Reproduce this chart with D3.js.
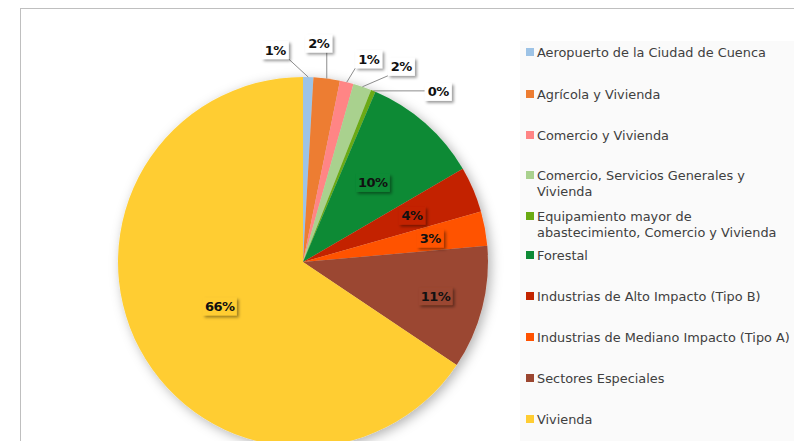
<!DOCTYPE html>
<html><head><meta charset="utf-8">
<script src="https://cdn.jsdelivr.net/npm/d3@7"></script>
<style>
html,body{margin:0;padding:0;background:#fff;}
svg{display:block;}
</style></head>
<body>
<svg id="chart" width="794" height="441"></svg>
<script>
const categories = [
  "Aeropuerto de la Ciudad de Cuenca",
  "Agrícola y Vivienda",
  "Comercio y Vivienda",
  "Comercio, Servicios Generales y Vivienda",
  "Equipamiento mayor de abastecimiento, Comercio y Vivienda",
  "Forestal",
  "Industrias de Alto Impacto (Tipo B)",
  "Industrias de Mediano Impacto (Tipo A)",
  "Sectores Especiales",
  "Vivienda"
];
const values = [0.9, 2.3, 1.2, 1.6, 0.4, 10.2, 4.0, 3.0, 10.8, 65.6];
const colors = ["#9DC3E6","#ED7D31","#FF8585","#A9D18E","#6AAA12","#0E8A36","#C32400","#FF5200","#9B4630","#FFCD33"];
const legendLines = [
  ["Aeropuerto de la Ciudad de Cuenca"],
  ["Agrícola y Vivienda"],
  ["Comercio y Vivienda"],
  ["Comercio, Servicios Generales y","Vivienda"],
  ["Equipamiento mayor de","abastecimiento, Comercio y Vivienda"],
  ["Forestal"],
  ["Industrias de Alto Impacto (Tipo B)"],
  ["Industrias de Mediano Impacto (Tipo A)"],
  ["Sectores Especiales"],
  ["Vivienda"]
];

// layout
const cx = 303, cy = 262, R = 185;
const outside = {0:[-33,-27], 1:[-8,-35], 2:[22,-23], 3:[39,-20], 4:[65,1]};
const insideR = {5:0.57, 6:0.64, 7:0.70, 8:0.74, 9:0.51};
const FONT = "'DejaVu Sans', sans-serif";

const svg = d3.select("#chart");
const defs = svg.append("defs");
const f = defs.append("filter").attr("id","pieShadow").attr("x","-20%").attr("y","-20%").attr("width","140%").attr("height","140%");
f.append("feDropShadow").attr("dx",3).attr("dy",3).attr("stdDeviation",6).attr("flood-color","#000").attr("flood-opacity",0.3);
const f2 = defs.append("filter").attr("id","boxShadow").attr("x","-30%").attr("y","-30%").attr("width","170%").attr("height","170%");
f2.append("feDropShadow").attr("dx",2).attr("dy",2).attr("stdDeviation",1.5).attr("flood-color","#000").attr("flood-opacity",0.4);

svg.append("rect").attr("x",20.5).attr("y",8.5).attr("width",790).attr("height",450)
  .attr("fill","#fff").attr("stroke","#bfbfbf").attr("stroke-width",1);
svg.append("rect").attr("x",520).attr("y",41).attr("width",280).attr("height",420).attr("fill","#fafafa");

const total = d3.sum(values);
const pie = d3.pie().sort(null).value(d => d)(values);
const arc = d3.arc().innerRadius(0).outerRadius(R);

const g = svg.append("g").attr("transform",`translate(${cx},${cy})`);
g.append("g").attr("filter","url(#pieShadow)")
  .selectAll("path").data(pie).join("path")
  .attr("d", arc).attr("fill",(d,i)=>colors[i]);

const lab = svg.append("g").attr("font-family",FONT).attr("font-weight","bold").attr("font-size",13);
pie.forEach((d,i) => {
  const pct = Math.round(d.value/total*100) + "%";
  const mid = (d.startAngle + d.endAngle)/2;
  const w = pct.length > 2 ? 34 : 27, h = 18;
  let lx, ly, fill;
  if (outside[i]) {
    const ex = cx + R*Math.sin(mid), ey = cy - R*Math.cos(mid);
    lx = ex + outside[i][0]; ly = ey + outside[i][1];
    fill = "#fff";
    const px = Math.max(lx - w/2, Math.min(ex, lx + w/2));
    const py = Math.max(ly - h/2, Math.min(ey, ly + h/2));
    lab.append("line").attr("x1",ex).attr("y1",ey).attr("x2",px).attr("y2",py)
      .attr("stroke","#7f7f7f").attr("stroke-width",0.9);
  } else {
    const rr = R*insideR[i];
    lx = cx + rr*Math.sin(mid); ly = cy - rr*Math.cos(mid);
    fill = colors[i];
  }
  lab.append("rect").attr("x",lx-w/2).attr("y",ly-h/2).attr("width",w).attr("height",h)
    .attr("fill",fill).attr("filter","url(#boxShadow)");
  lab.append("text").attr("x",lx).attr("y",ly+4.5).attr("text-anchor","middle")
    .attr("fill","#111").attr("letter-spacing",-0.5).text(pct);
});

// legend: fit font size so the longest entry spans the reference width
const rowY = [52, 94, 135, 175, 216, 255, 296, 337, 378, 419];
const leg = svg.append("g").attr("font-family",FONT).attr("font-size",12).attr("fill","#404040");
const probe = leg.append("text").text(legendLines[7][0]);
const fs = 12 * 253 / probe.node().getComputedTextLength();
probe.remove();
leg.attr("font-size", fs.toFixed(2));
categories.forEach((c,i) => {
  const y = rowY[i];
  leg.append("rect").attr("x",526).attr("y",y-4).attr("width",8).attr("height",8).attr("fill",colors[i]);
  legendLines[i].forEach((t,k) => {
    leg.append("text").attr("x",537).attr("y",y+5+k*16).text(t);
  });
});
</script>
</body></html>
